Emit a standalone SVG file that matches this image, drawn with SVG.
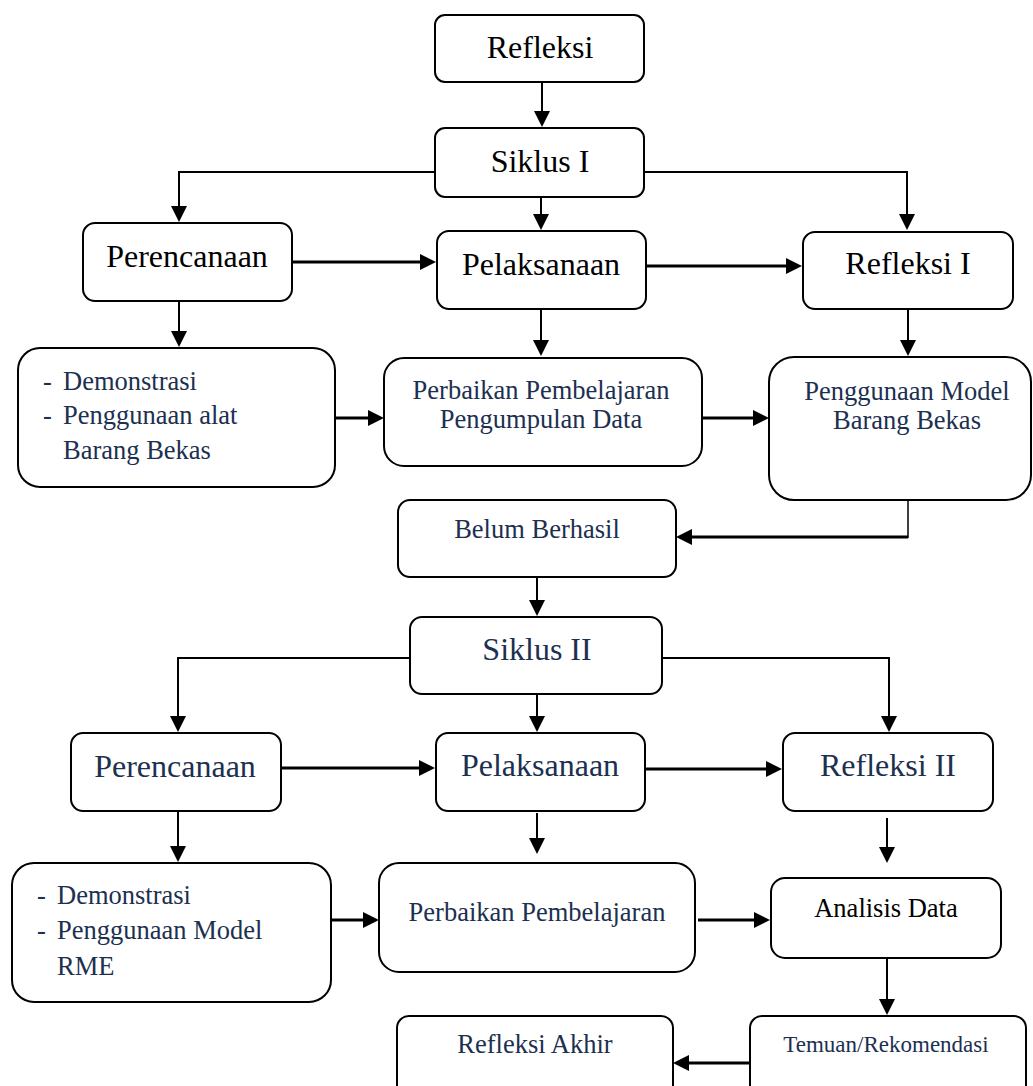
<svg xmlns="http://www.w3.org/2000/svg" width="1033" height="1086" viewBox="0 0 1033 1086">
<style>
.box{fill:#fff;stroke:#000;stroke-width:2}
.t{font-family:"Liberation Serif","Times New Roman",serif;text-anchor:middle}
.big{font-size:32px}
.mid{font-size:26.5px}
.blk{fill:#000}
.nv{fill:#1c3050}
.l{text-anchor:start}
.c2{fill:none;stroke:#000;stroke-width:2}
.c3{fill:none;stroke:#000;stroke-width:3}
.c1{fill:none;stroke:#000;stroke-width:1.5}
</style>
<defs>
<marker id="ah" markerUnits="userSpaceOnUse" markerWidth="16" markerHeight="16" refX="6" refY="8" orient="auto">
<path d="M0,0 L16,8 L0,16 z" fill="#000"/>
</marker>
</defs>
<rect width="1033" height="1086" fill="#fff"/>
<g id="connectors">
<line class="c2" x1="542" y1="82" x2="542" y2="117" marker-end="url(#ah)"/>
<path class="c2" d="M435,172 H179 V212" marker-end="url(#ah)"/>
<path class="c2" d="M644,172 H907 V220" marker-end="url(#ah)"/>
<line class="c2" x1="541" y1="197" x2="541" y2="220" marker-end="url(#ah)"/>
<line class="c3" x1="292" y1="262" x2="426" y2="262" marker-end="url(#ah)"/>
<line class="c3" x1="646" y1="266" x2="792" y2="266" marker-end="url(#ah)"/>
<line class="c2" x1="179" y1="301" x2="179" y2="337" marker-end="url(#ah)"/>
<line class="c2" x1="541" y1="309" x2="541" y2="346" marker-end="url(#ah)"/>
<line class="c2" x1="908" y1="309" x2="908" y2="346" marker-end="url(#ah)"/>
<line class="c3" x1="335" y1="418" x2="374" y2="418" marker-end="url(#ah)"/>
<line class="c3" x1="702" y1="418" x2="759" y2="418" marker-end="url(#ah)"/>
<line class="c1" x1="908" y1="470" x2="908" y2="538"/>
<line class="c3" x1="908" y1="537" x2="686" y2="537" marker-end="url(#ah)"/>
<line class="c2" x1="537" y1="577" x2="537" y2="606" marker-end="url(#ah)"/>
<path class="c2" d="M410,658 H178 V722" marker-end="url(#ah)"/>
<path class="c2" d="M662,658 H889 V722" marker-end="url(#ah)"/>
<line class="c2" x1="537" y1="694" x2="537" y2="722" marker-end="url(#ah)"/>
<line class="c3" x1="281" y1="768" x2="425" y2="768" marker-end="url(#ah)"/>
<line class="c3" x1="645" y1="769" x2="772" y2="769" marker-end="url(#ah)"/>
<line class="c2" x1="178" y1="811" x2="178" y2="852" marker-end="url(#ah)"/>
<line class="c2" x1="537" y1="813" x2="537" y2="844" marker-end="url(#ah)"/>
<line class="c2" x1="887" y1="818" x2="887" y2="853" marker-end="url(#ah)"/>
<line class="c3" x1="331" y1="920" x2="369" y2="920" marker-end="url(#ah)"/>
<line class="c3" x1="698" y1="920" x2="760" y2="920" marker-end="url(#ah)"/>
<line class="c2" x1="887" y1="958" x2="887" y2="1005" marker-end="url(#ah)"/>
<line class="c3" x1="750" y1="1063" x2="683" y2="1063" marker-end="url(#ah)"/>
</g>
<g id="refleksi"><rect class="box" x="435" y="15" width="209" height="67" rx="10"/><text class="t big blk" x="540" y="58">Refleksi</text></g>
<g id="siklus1"><rect class="box" x="435" y="128" width="209" height="69" rx="10"/><text class="t big blk" x="540" y="172">Siklus I</text></g>
<g id="perencanaan1"><rect class="box" x="83" y="223" width="209" height="78" rx="12"/><text class="t big blk" x="187" y="267">Perencanaan</text></g>
<g id="pelaksanaan1"><rect class="box" x="437" y="231" width="209" height="78" rx="12"/><text class="t big blk" x="541" y="275">Pelaksanaan</text></g>
<g id="refleksi1"><rect class="box" x="803" y="232" width="210" height="77" rx="12"/><text class="t big blk" x="908" y="274">Refleksi I</text></g>
<g id="demo1"><rect class="box" x="18" y="348" width="317" height="139" rx="22"/>
<text class="t mid nv l" x="43" y="390">-</text><text class="t mid nv l" x="63" y="390">Demonstrasi</text>
<text class="t mid nv l" x="43" y="424">-</text><text class="t mid nv l" x="63" y="424">Penggunaan alat</text>
<text class="t mid nv l" x="63" y="459">Barang Bekas</text></g>
<g id="perbaikan1"><rect class="box" x="384" y="358" width="318" height="108" rx="20"/><text class="t mid nv" x="541" y="399">Perbaikan Pembelajaran</text><text class="t mid nv" x="541" y="428">Pengumpulan Data</text></g>
<g id="penggunaan"><rect class="box" x="769" y="357" width="262" height="143" rx="25"/><text class="t mid nv" x="907" y="400">Penggunaan Model</text><text class="t mid nv" x="907" y="429">Barang Bekas</text></g>
<g id="belum"><rect class="box" x="398" y="500" width="278" height="77" rx="12"/><text class="t mid nv" x="537" y="538">Belum Berhasil</text></g>
<g id="siklus2"><rect class="box" x="410" y="617" width="252" height="77" rx="12"/><text class="t big nv" x="537" y="660">Siklus II</text></g>
<g id="perencanaan2"><rect class="box" x="71" y="733" width="210" height="78" rx="12"/><text class="t big nv" x="175" y="777">Perencanaan</text></g>
<g id="pelaksanaan2"><rect class="box" x="436" y="733" width="209" height="78" rx="12"/><text class="t big nv" x="540" y="776">Pelaksanaan</text></g>
<g id="refleksi2"><rect class="box" x="783" y="733" width="210" height="78" rx="12"/><text class="t big nv" x="888" y="776">Refleksi II</text></g>
<g id="demo2"><rect class="box" x="12" y="863" width="319" height="139" rx="22"/>
<text class="t mid nv l" x="37" y="904">-</text><text class="t mid nv l" x="57" y="904">Demonstrasi</text>
<text class="t mid nv l" x="37" y="939">-</text><text class="t mid nv l" x="57" y="939">Penggunaan Model</text>
<text class="t mid nv l" x="57" y="975">RME</text></g>
<g id="perbaikan2"><rect class="box" x="379" y="863" width="316" height="109" rx="20"/><text class="t mid nv" x="537" y="921">Perbaikan Pembelajaran</text></g>
<g id="analisis"><rect class="box" x="771" y="878" width="230" height="80" rx="14"/><text class="t mid blk" x="886" y="917">Analisis Data</text></g>
<g id="temuan"><rect class="box" x="750" y="1016" width="276" height="90" rx="12"/><text class="t nv" style="font-size:23px" x="886" y="1052">Temuan/Rekomendasi</text></g>
<g id="refleksiakhir"><rect class="box" x="397" y="1016" width="276" height="90" rx="12"/><text class="t mid nv" x="535" y="1053">Refleksi Akhir</text></g>
</svg>
